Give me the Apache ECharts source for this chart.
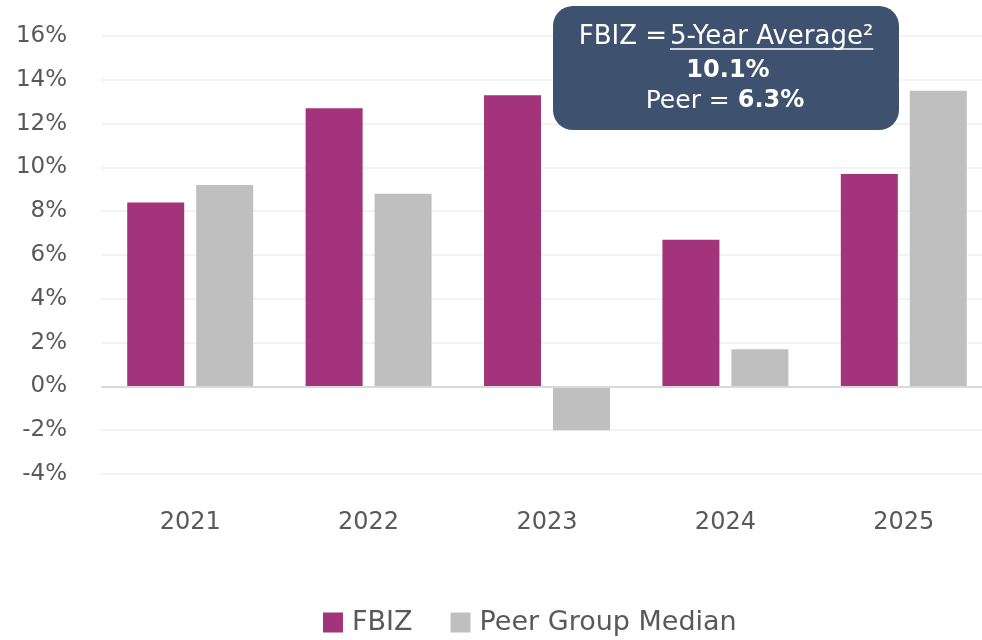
<!DOCTYPE html>
<html>
<head>
<meta charset="utf-8">
<script src="https://cdn.jsdelivr.net/npm/echarts@6/dist/echarts.min.js"></script>
<style>html,body{margin:0;padding:0;background:#fff;}#c{width:982px;height:640px;}</style>
</head>
<body>
<div id="c"></div>
<script>
const categories = ['2021', '2022', '2023', '2024', '2025'];
const fbizValues = [8.4, 12.7, 13.3, 6.7, 9.7];
const peerValues = [9.2, 8.8, -2.0, 1.7, 13.5];
const seriesNames = ['FBIZ', 'Peer Group Median'];
const yTicks = { min: -4, max: 16, interval: 2 };
const boxLines = ['FBIZ =', '5-Year Average²', '10.1%', 'Peer = ', '6.3%'];

const FONT = '"DejaVu Sans", sans-serif';
const TXT = '#595959';

const ctx = document.createElement('canvas').getContext('2d');
ctx.font = '26px "DejaVu Sans"';
const ulWidth = ctx.measureText(boxLines[1]).width;
const ulStart = 670;

const chart = echarts.init(document.getElementById('c'));
chart.setOption({
  animation: false,
  backgroundColor: '#fff',
  textStyle: { fontFamily: FONT },
  grid: { left: 101, right: -11, top: 36, bottom: 166, containLabel: false, outerBoundsMode: 'none' },
  legend: {
    bottom: -1, left: 318,
    itemWidth: 20, itemHeight: 20, itemGap: 38,
    icon: 'rect',
    textStyle: { fontSize: 27, color: TXT, fontFamily: FONT, padding: [0, 0, 0, 4] },
    data: seriesNames
  },
  xAxis: {
    type: 'category', data: categories,
    axisLine: { show: false, onZero: false },
    axisTick: { show: false },
    axisLabel: { fontSize: 24, color: TXT, margin: 37, fontFamily: FONT }
  },
  yAxis: {
    type: 'value', min: yTicks.min, max: yTicks.max, interval: yTicks.interval,
    axisLine: { show: false }, axisTick: { show: false },
    axisLabel: { fontSize: 23, color: TXT, margin: 34, formatter: v => v + '%', fontFamily: FONT },
    splitLine: { lineStyle: { color: '#efefef', width: 1.5 } }
  },
  series: [
    {
      name: seriesNames[0], type: 'bar', data: fbizValues,
      barWidth: 57, barGap: '21%',
      itemStyle: { color: '#a3337a' },
      markLine: {
        silent: true, symbol: 'none', label: { show: false },
        lineStyle: { color: '#d9d9d9', width: 2, type: 'solid' },
        data: [{ yAxis: 0 }]
      }
    },
    {
      name: seriesNames[1], type: 'bar', data: peerValues,
      barWidth: 57,
      itemStyle: { color: '#bfbfbf' }
    }
  ],
  graphic: [
    { type: 'rect', shape: { x: 553, y: 6, width: 346, height: 124, r: 20 }, style: { fill: '#3e5270' }, z: 100 },
    { type: 'text', z: 101, style: {
        x: ulStart - 3, y: 37, align: 'right', verticalAlign: 'middle',
        text: boxLines[0], fontSize: 26, fill: '#fff', fontFamily: FONT
    } },
    { type: 'text', z: 101, style: {
        x: ulStart, y: 37, align: 'left', verticalAlign: 'middle',
        text: boxLines[1], fontSize: 26, fill: '#fff', fontFamily: FONT
    } },
    { type: 'line', z: 101, shape: { x1: ulStart, y1: 49, x2: ulStart + ulWidth, y2: 49 }, style: { stroke: '#fff', lineWidth: 1.5 } },
    { type: 'text', z: 101, style: {
        x: 728, y: 71, align: 'center', verticalAlign: 'middle',
        text: boxLines[2], fontSize: 24, fontWeight: 'bold', fill: '#fff', fontFamily: FONT
    } },
    { type: 'text', z: 101, style: {
        x: 725, y: 101, align: 'center', verticalAlign: 'middle',
        text: '{n|' + boxLines[3] + '}{b|' + boxLines[4] + '}',
        rich: { n: { fontSize: 25, fill: '#fff', fontFamily: FONT }, b: { fontSize: 24, fill: '#fff', fontWeight: 'bold', fontFamily: FONT } }
    } }
  ]
});
</script>
</body>
</html>
